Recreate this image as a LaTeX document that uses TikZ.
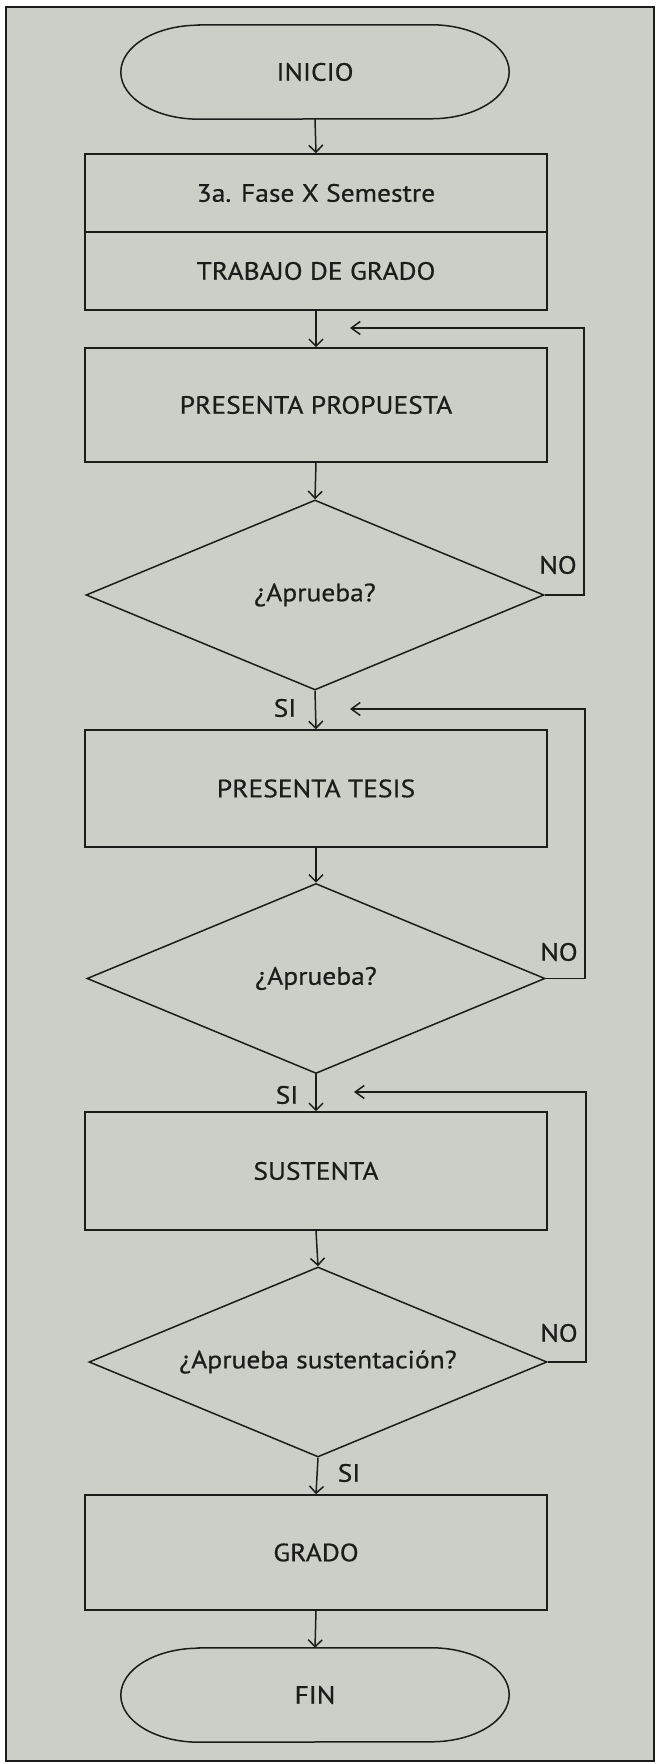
\documentclass[tikz,border=0pt]{standalone}
\usepackage{fontspec}
\setmainfont{PT Sans}[FakeStretch=1.1,FakeBold=0.6]
\usetikzlibrary{shapes.geometric,arrows.meta}
\definecolor{bg}{RGB}{204,207,199}
\definecolor{ink}{RGB}{28,28,26}
\begin{document}
\begin{tikzpicture}[x=1pt,y=1pt,
  every node/.style={text=ink,font=\fontsize{25}{29}\selectfont},
  procbox/.style={draw=ink,line width=1.5pt,minimum width=462pt,minimum height=#1,inner sep=0pt},
  termnode/.style={minimum width=388pt,minimum height=94pt,inner sep=0pt},
  decision/.style={diamond,draw=ink,line width=1.5pt,minimum width=458pt,minimum height=190pt,inner sep=0pt,shape aspect=2.4},
  flow/.style={draw=ink,line width=1.5pt,-{Straight Barb[length=7pt,width=14pt,line width=1.5pt]}},
  looparrow/.style={draw=ink,line width=1.5pt,-{Straight Barb[length=9pt,width=13pt,line width=1.5pt]}},
  tag/.style={inner sep=0pt}
]
% page and frame
\fill[white] (0,0) rectangle (657,1764);
\draw[draw=ink,fill=bg,line width=1.5pt] (6,3) rectangle (654,1757);
\useasboundingbox (0,0) rectangle (657,1764);

% terminators
\node[termnode] (ini) at (315,1692) {INICIO};
\draw[draw=ink,line width=1.5pt] ([xshift=78pt]ini.north west) -- ([xshift=-78pt]ini.north east)
  arc[start angle=90,end angle=-90,x radius=78,y radius=47]
  -- ([xshift=78pt]ini.south west)
  arc[start angle=270,end angle=90,x radius=78,y radius=47] -- cycle;

\node[termnode] (fin) at (315,69) {FIN};
\draw[draw=ink,line width=1.5pt] ([xshift=78pt]fin.north west) -- ([xshift=-78pt]fin.north east)
  arc[start angle=90,end angle=-90,x radius=78,y radius=47]
  -- ([xshift=78pt]fin.south west)
  arc[start angle=270,end angle=90,x radius=78,y radius=47] -- cycle;

% process boxes
\node[procbox=78pt] (fase) at (316,1571) {3a. Fase X Semestre};
\node[procbox=78pt] (trab) at (316,1493) {TRABAJO DE GRADO};
\node[procbox=114pt] (prop) at (316,1359) {PRESENTA PROPUESTA};
\node[procbox=117pt] (tesis) at (316,975.5) {PRESENTA TESIS};
\node[procbox=118pt] (sust) at (316,593) {SUSTENTA};
\node[procbox=115pt] (grado) at (316,211.5) {GRADO};

% decisions
\node[decision] (d1) at (315,1169) {¿Aprueba?};
\node[decision] (d2) at (316,785.5) {¿Aprueba?};
\node[decision] (d3) at (318,402) {¿Aprueba sustentación?};

% main flow
\draw[flow] (ini.south) -- (fase.north);
\draw[flow] (trab.south) -- (prop.north);
\draw[flow] (prop.south) -- (d1.north);
\draw[flow] (d1.south) -- (tesis.north);
\draw[flow] (tesis.south) -- (d2.north);
\draw[flow] (d2.south) -- (sust.north);
\draw[flow] (sust.south) -- (d3.north);
\draw[flow] (d3.south) -- (grado.north);
\draw[flow] (grado.south) -- (fin.north);

% loops
\coordinate (c1) at (584,1436);
\coordinate (e1) at (350,1436);
\draw[looparrow] (d1.east) -| (c1) -- (e1);
\coordinate (c2) at (585,1055);
\coordinate (e2) at (350,1055);
\draw[looparrow] (d2.east) -| (c2) -- (e2);
\coordinate (c3) at (586,672);
\coordinate (e3) at (354,672);
\draw[looparrow] (d3.east) -| (c3) -- (e3);

% labels
\node[tag] (no1) at (558,1199) {NO};
\node[tag] (si1) at (285,1056) {SI};
\node[tag] (no2) at (559,812) {NO};
\node[tag] (si2) at (287,669) {SI};
\node[tag] (no3) at (559,431) {NO};
\node[tag] (si3) at (349,291) {SI};
\end{tikzpicture}
\end{document}
